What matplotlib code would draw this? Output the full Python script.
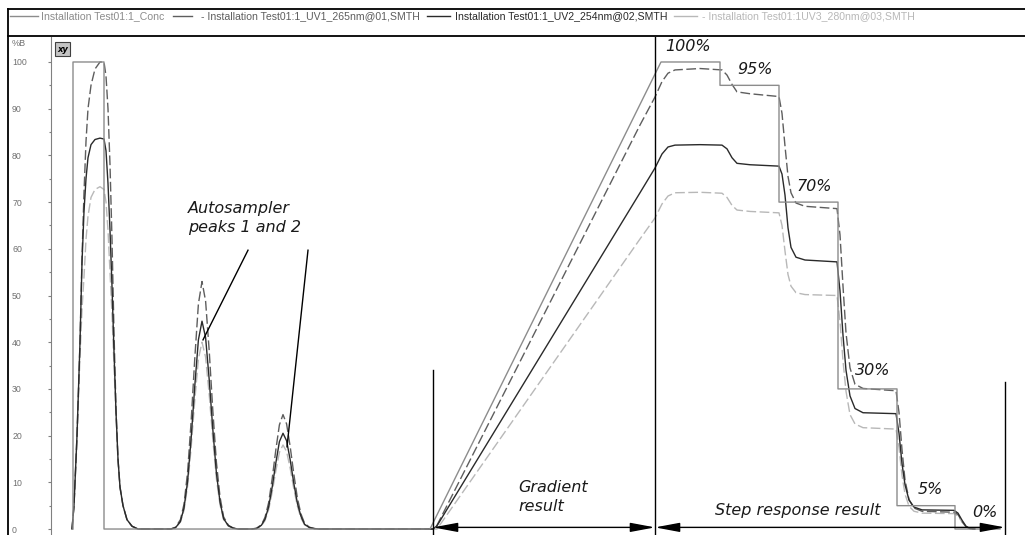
import matplotlib
matplotlib.use("Agg")
import matplotlib.pyplot as plt
from matplotlib.lines import Line2D
from matplotlib.patches import Rectangle, ArrowStyle

# Data (x in minutes, y in %B)
conc_x = [2.2, 2.2, 5.3, 5.3, 37.9, 61.0, 66.9, 66.9, 72.8, 72.8, 78.7, 78.7,
          84.6, 84.6, 90.4, 90.4, 94.9]
conc_y = [0, 100, 100, 0, 0, 100, 100, 95, 95, 70, 70, 30, 30, 5, 5, 0, 0]

# first (saturated) peak
front_x = [2.1, 2.3, 2.6, 2.9, 3.1, 3.3, 3.5, 3.7, 4.0, 4.4, 4.9, 5.3, 5.5,
           5.7, 5.9, 6.1, 6.3, 6.5, 6.7, 6.9, 7.2, 7.6, 8.1, 8.7]
uv1_front = [0, 5, 20, 40, 58, 72, 83, 90, 95, 98.5, 100, 100, 97, 90, 78, 62,
             42, 26, 15, 9, 5, 2, 0.6, 0]
uv2_front = [0, 5, 20, 40, 57, 68, 75, 79.5, 82.3, 83.4, 83.7, 83.5, 81, 74,
             64, 52, 38, 25, 15, 9, 5, 2, 0.6, 0]
uv3_front = [0, 5, 19, 37, 47, 54, 62, 67, 71, 72.7, 73.3, 72.7, 70, 64, 55,
             46, 35, 24, 14.5, 8.8, 5, 2, 0.6, 0]

# autosampler peak 1
peak1_x = [11.98, 12.46, 12.94, 13.3, 13.66, 14.02, 14.38, 14.74, 15.1, 15.46,
           15.82, 16.18, 16.54, 16.9, 17.26, 17.74, 18.22, 18.7]
uv1_peak1 = [0, 0.4, 2.0, 5.3, 12.2, 23.3, 36.6, 48.2, 53, 48.8, 38.2, 25.4,
             14.3, 6.9, 2.6, 0.8, 0.2, 0]
uv2_peak1 = [0, 0.3, 1.6, 4.5, 10.2, 19.6, 30.7, 40.5, 44.5, 41, 32, 21.4, 12,
             5.8, 2.2, 0.7, 0.2, 0]
uv3_peak1 = [0, 0.3, 1.5, 4.0, 9.2, 17.6, 27.6, 36.4, 40, 36.8, 28.8, 19.2,
             10.8, 5.2, 2.0, 0.6, 0.2, 0]

# autosampler peak 2
peak2_x = [20.08, 20.56, 21.04, 21.4, 21.76, 22.12, 22.48, 22.84, 23.2, 23.56,
           23.92, 24.28, 24.64, 25.0, 25.36, 25.84, 26.32, 26.8]
uv1_peak2 = [0, 0.2, 0.9, 2.5, 5.6, 10.8, 16.9, 22.3, 24.5, 22.5, 17.6, 11.8,
             6.6, 3.2, 1.2, 0.4, 0.1, 0]
uv2_peak2 = [0, 0.1, 0.8, 2.1, 4.7, 9.0, 14.1, 18.7, 20.5, 18.9, 14.8, 9.8,
             5.5, 2.7, 1.0, 0.3, 0.1, 0]
uv3_peak2 = [0, 0.1, 0.7, 1.8, 4.1, 7.9, 12.4, 16.4, 18.0, 16.6, 13.0, 8.6,
             4.9, 2.3, 0.9, 0.3, 0.1, 0]

# gradient and step response
grad_x = [38.2, 38.6, 58.9, 60.4, 61.1, 61.7, 62.4, 64.9, 67.1, 67.6, 68.1,
          68.6, 69.9, 72.8, 73.1, 73.4, 73.7, 74.0, 74.5, 75.4, 78.6, 78.9,
          79.2, 79.5, 79.9, 80.4, 81.2, 84.5, 84.8, 85.1, 85.4, 85.8, 86.3,
          87.1, 90.3, 90.7, 91.1, 91.5, 91.9, 92.4]
uv1_grad = [0, 0.8, 86.5, 92.5, 95.8, 97.6, 98.3, 98.6, 98.3, 97.2, 95.2, 93.6,
            93.2, 92.6, 89, 82, 75.5, 72, 69.8, 69.1, 68.6, 63, 52, 42, 34.5,
            31, 30.1, 29.6, 25, 17, 10.5, 6.3, 4.5, 3.8, 3.6, 3.1, 1.6, 0.5,
            0.05, 0]
uv2_grad = [0, 0.7, 72, 77.3, 80.3, 81.8, 82.2, 82.3, 82.2, 81.4, 79.5, 78.3,
            78.0, 77.7, 76, 71.5, 64.5, 60.3, 58.2, 57.6, 57.2, 51, 41.5, 34,
            28.5, 25.8, 24.9, 24.7, 20.5, 14, 9.5, 6.2, 4.7, 4.1, 4.0, 3.4,
            1.9, 0.6, 0.1, 0]
uv3_grad = [0, 0, 62.1, 66.6, 69.6, 71.3, 72.0, 72.1, 71.9, 71.0, 69.3, 68.3,
            68.0, 67.7, 65, 59.5, 54.5, 52, 50.6, 50.2, 50.0, 44.5, 36, 29.5,
            24.5, 22.5, 21.7, 21.4, 17.5, 11.5, 7.5, 4.9, 3.8, 3.4, 3.3, 2.8,
            1.5, 0.5, 0.05, 0]

legend_labels = ["Installation Test01:1_Conc",
                 "- Installation Test01:1_UV1_265nm@01,SMTH",
                 "Installation Test01:1_UV2_254nm@02,SMTH",
                 "- Installation Test01:1UV3_280nm@03,SMTH"]

step_labels = ["100%", "95%", "70%", "30%", "5%", "0%"]
step_label_x = [61.4, 68.6, 74.6, 80.4, 86.7, 92.1]
step_label_y = [103.4, 98.3, 73.3, 34.0, 8.4, 3.6]

c_conc = "#8c8c8c"
c_uv1 = "#5e5e5e"
c_uv2 = "#2a2a2a"
c_uv3 = "#b8b8b8"
dash = (0, (7, 2.5))

W, H = 1025, 535
fig = plt.figure(figsize=(W / 100, H / 100), dpi=100)


def fx(px):
    return px / W


def fy(py):
    return 1 - py / H


ax = fig.add_axes([fx(51), 0, 1 - fx(51), fy(37)])

uv_x = front_x + peak1_x + peak2_x + grad_x
uv1_y = uv1_front + uv1_peak1 + uv1_peak2 + uv1_grad
uv2_y = uv2_front + uv2_peak1 + uv2_peak2 + uv2_grad
uv3_y = uv3_front + uv3_peak1 + uv3_peak2 + uv3_grad

ax.plot(uv_x, uv3_y, color=c_uv3, lw=1.0, linestyle=dash)
ax.plot(uv_x, uv1_y, color=c_uv1, lw=1.0, linestyle=dash)
ax.plot(uv_x, uv2_y, color=c_uv2, lw=1.0)
ax.plot(conc_x, conc_y, color=c_conc, lw=1.0)

ax.set_xlim(0, 97.4)
ax.set_ylim(-1.28, 105.35)

for s in ["top", "right", "bottom"]:
    ax.spines[s].set_visible(False)
ax.spines["left"].set_color("#808080")
ax.spines["left"].set_linewidth(0.8)
ax.set_xticks([])
ax.set_yticks(range(0, 101, 10))
ax.set_yticks(range(5, 100, 10), minor=True)
ax.tick_params(axis="y", which="major", length=2.5, width=0.8, color="#808080",
               labelsize=6.3, labelcolor="#707070", pad=25.5)
ax.tick_params(axis="y", which="minor", length=1.5, width=0.8, color="#808080")
for lab in ax.get_yticklabels():
    lab.set_horizontalalignment("left")
    lab.set_fontfamily("Liberation Sans")

# annotations
ann = dict(fontsize=11.5, fontstyle="italic", color="#1a1a1a", family="DejaVu Sans")
ax.text(13.7, 66.6, "Autosampler\npeaks 1 and 2", ha="left", va="center",
        linespacing=1.3, **ann)
ax.plot([19.7, 15.2], [59.7, 40.5], color="black", lw=1.0)
ax.plot([25.7, 23.6], [59.7, 17.6], color="black", lw=1.0)

ax.text(46.7, 6.9, "Gradient\nresult", ha="left", va="center",
        linespacing=1.3, **ann)
ax.text(66.4, 3.9, "Step response result", ha="left", va="center", **ann)
for lab, x, y in zip(step_labels, step_label_x, step_label_y):
    ax.text(x, y, lab, ha="left", va="center", **ann)

ax.plot([38.2, 38.2], [34.0, -1.28], color="black", lw=1.0)
ax.plot([60.4, 60.4], [105.35, -1.28], color="black", lw=1.0)
ax.plot([95.4, 95.4], [31.5, -1.28], color="black", lw=1.0)

arrow = ArrowStyle("<|-|>", head_length=1.5, head_width=0.28)
for x0, x1 in [(38.2, 60.4), (60.4, 95.4)]:
    ax.annotate("", xy=(x1, 0.35), xytext=(x0, 0.35),
                arrowprops=dict(arrowstyle=arrow, color="black", lw=1.0,
                                shrinkA=0, shrinkB=0, mutation_scale=10))

# frame and legend row
frame = dict(color="black", lw=1.3)
fig.add_artist(Line2D([fx(8), fx(1025)], [fy(9), fy(9)], **frame))
fig.add_artist(Line2D([fx(8), fx(1025)], [fy(36), fy(36)], **frame))
fig.add_artist(Line2D([fx(8), fx(8)], [fy(9), fy(535)], **frame))

leg_lines = [(10, 38), (173, 192), (427, 450), (674, 697)]
leg_text_x = [41, 201, 455, 702]
leg_colors = [c_conc, c_uv1, c_uv2, c_uv3]
for (a, b), tx, col, lab in zip(leg_lines, leg_text_x, leg_colors, legend_labels):
    fig.add_artist(Line2D([fx(a), fx(b)], [fy(16), fy(16)], color=col, lw=1.0))
    fig.text(fx(tx), fy(16), lab, ha="left", va="center", fontsize=7.6,
             color=col, family="Liberation Sans")

fig.text(fx(12), fy(44), "%B", ha="left", va="center", fontsize=6.5,
         color="#707070", family="Liberation Sans")

# little "xy" button
fig.add_artist(Rectangle((fx(55), fy(56)), fx(15), 14 / H, transform=fig.transFigure,
                         facecolor="#c4c4c4", edgecolor="#404040", lw=0.8))
fig.text(fx(62.5), fy(49), "xy", ha="center", va="center", fontsize=6,
         fontstyle="italic", fontweight="bold", color="black")

fig.savefig("out.png", dpi=100)
